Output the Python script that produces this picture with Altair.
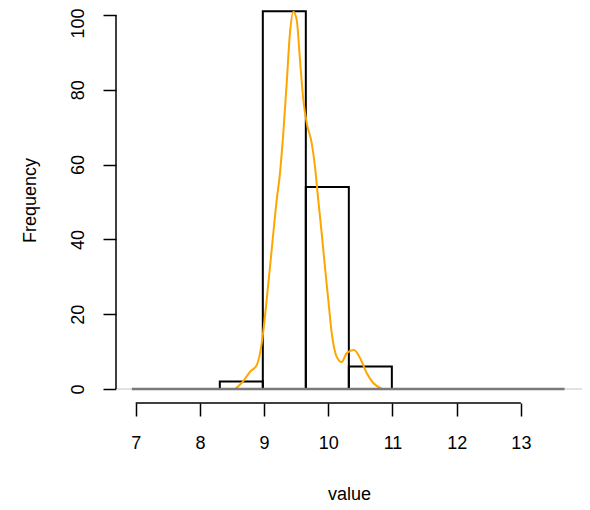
import altair as alt
import pandas as pd

# histogram bins (value ranges) and counts
bin_start = [8.31, 8.98, 9.65, 10.32]
bin_end = [8.98, 9.65, 10.32, 10.99]
counts = [2, 101, 54, 6]

# density curve scaled to frequency
curve_x = [8.55, 8.66, 8.78, 8.885, 8.963, 9.04, 9.118, 9.196, 9.248, 9.299, 9.352, 9.403, 9.455,
           9.508, 9.559, 9.611, 9.664, 9.741, 9.793, 9.844, 9.897, 9.948, 10.0, 10.053, 10.131,
           10.209, 10.287, 10.40, 10.494, 10.598, 10.701, 10.832]
curve_y = [0.0, 1.8, 4.6, 6.4, 12.2, 23.8, 37.2, 50.5, 57.8, 68.4, 81.8, 95.2, 100.9,
           98.7, 88.0, 77.3, 71.1, 65.8, 59.4, 50.5, 41.7, 32.6, 23.8, 15.0, 8.6,
           7.2, 9.6, 10.4, 8.3, 4.3, 1.6, 0.1]

# zero line spans
zero_dark = [6.94, 13.68]
x_limits = [6.693, 13.952]
y_limits = [-3.74, 101.87]
x_ticks = [7, 8, 9, 10, 11, 12, 13]
y_ticks = [0, 20, 40, 60, 80, 100]
axis_x_span = [7, 13]
axis_y_span = [0, 100]

FONT = "Liberation Sans"

xs = alt.Scale(domain=x_limits, nice=False, zero=False)
ys = alt.Scale(domain=y_limits, nice=False, zero=False)

hist = pd.DataFrame({"start": bin_start, "end": bin_end, "count": counts})
curve = pd.DataFrame({"x": curve_x, "y": curve_y})

base_x = alt.X("x:Q", scale=xs, title="value",
               axis=alt.Axis(values=x_ticks, domain=False, grid=False, tickSize=13, tickWidth=1.5,
                             tickColor="black", labelFontSize=18, labelFont=FONT, labelColor="black",
                             labelPadding=18, labelFlush=False, titleFont=FONT, titleFontSize=18,
                             titleFontWeight="normal", titleColor="black", titleY=91,
                             titleBaseline="middle", format="d"))
base_y = alt.Y("y:Q", scale=ys, title="Frequency",
               axis=alt.Axis(values=y_ticks, domain=False, grid=False, tickSize=13, tickWidth=1.5,
                             tickColor="black", labelFontSize=18, labelFont=FONT, labelColor="black",
                             labelAngle=-90, labelPadding=16, labelAlign="center", labelBaseline="bottom",
                             labelOffset=alt.condition("datum.value == 100", alt.value(8), alt.value(0)),
                             labelFlush=False, titleFont=FONT, titleFontSize=18, titleFontWeight="normal",
                             titleColor="black", titleAngle=-90, titleX=-86, titleY=192,
                             titleAlign="center", titleBaseline="middle"))

light_zero = alt.Chart(pd.DataFrame({"x": [x_limits[0]], "x2": [x_limits[1]], "y": [0]})).mark_rule(
    color="#d9d9d9", strokeWidth=1.5).encode(x=base_x, x2="x2:Q", y=base_y)

bars = alt.Chart(hist).mark_rect(fill="white", fillOpacity=0, stroke="black", strokeWidth=2).encode(
    x=alt.X("start:Q", scale=xs), x2="end:Q",
    y=alt.Y("count:Q", scale=ys), y2=alt.datum(0))

line = alt.Chart(curve).mark_line(color="#FFA500", strokeWidth=2, interpolate="monotone").encode(
    x=alt.X("x:Q", scale=xs), y=alt.Y("y:Q", scale=ys))

dark_zero = alt.Chart(pd.DataFrame({"x": [zero_dark[0]], "x2": [zero_dark[1]], "y": [0]})).mark_rule(
    color="#7a7a7a", strokeWidth=2.5).encode(x=alt.X("x:Q", scale=xs), x2="x2:Q", y=alt.Y("y:Q", scale=ys))

x_axis_line = alt.Chart(pd.DataFrame({"x": [axis_x_span[0]], "x2": [axis_x_span[1]], "y": [y_limits[0]]})).mark_rule(
    color="black", strokeWidth=1.5).encode(x=alt.X("x:Q", scale=xs), x2="x2:Q", y=alt.Y("y:Q", scale=ys))

y_axis_line = alt.Chart(pd.DataFrame({"x": [x_limits[0]], "y": [axis_y_span[0]], "y2": [axis_y_span[1]]})).mark_rule(
    color="black", strokeWidth=1.5).encode(x=alt.X("x:Q", scale=xs), y=alt.Y("y:Q", scale=ys), y2="y2:Q")

chart = alt.layer(light_zero, bars, line, dark_zero, x_axis_line, y_axis_line).properties(
    width=466, height=395,
    autosize=alt.AutoSizeParams(type="none"),
    padding={"left": 108, "top": 0, "right": 0, "bottom": 99},
    background="white",
).configure_view(strokeWidth=0, stroke="transparent")

chart.save("out.html", embed_options={"renderer": "svg", "actions": False})
